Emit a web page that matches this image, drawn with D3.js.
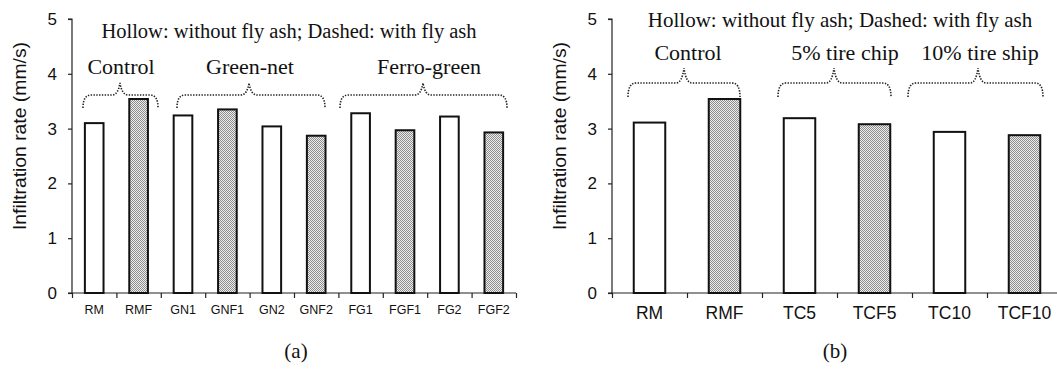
<!DOCTYPE html>
<html>
<head>
<meta charset="utf-8">
<script src="https://cdn.jsdelivr.net/npm/d3@7"></script>
<style>
  html, body { margin: 0; padding: 0; background: #fff; }
  svg { display: block; }
</style>
</head>
<body>
<svg id="chart" width="1057" height="371"></svg>
<script>
// ---- data ----
const catsA = ["RM", "RMF", "GN1", "GNF1", "GN2", "GNF2", "FG1", "FGF1", "FG2", "FGF2"];
const valsA = [3.10, 3.54, 3.24, 3.35, 3.04, 2.87, 3.28, 2.97, 3.22, 2.93];
const flyA  = [false, true, false, true, false, true, false, true, false, true];

const catsB = ["RM", "RMF", "TC5", "TCF5", "TC10", "TCF10"];
const valsB = [3.11, 3.54, 3.19, 3.08, 2.94, 2.88];
const flyB  = [false, true, false, true, false, true];

const yTicks = [0, 1, 2, 3, 4, 5];
const yTitle = "Infiltration rate (mm/s)";
const noteText = "Hollow: without fly ash; Dashed: with fly ash";
const groupsA = ["Control", "Green-net", "Ferro-green"];
const groupsB = ["Control", "5% tire chip", "10% tire ship"];
const captions = ["(a)", "(b)"];

// ---- drawing ----
const svg = d3.select("#chart");
const defs = svg.append("defs");
const pat = defs.append("pattern").attr("id", "dots")
  .attr("patternUnits", "userSpaceOnUse").attr("width", 2).attr("height", 2);
pat.append("rect").attr("width", 2).attr("height", 2).attr("fill", "#eeeeee");
pat.append("rect").attr("x", 0).attr("y", 0).attr("width", 1).attr("height", 1).attr("fill", "#8c8c8c");
pat.append("rect").attr("x", 1).attr("y", 1).attr("width", 1).attr("height", 1).attr("fill", "#8c8c8c");

const SANS = "Arial, 'Liberation Sans', sans-serif";
const SERIF = "'Times New Roman', 'Liberation Serif', serif";

function panel(cfg) {
  const g = svg.append("g");
  const x = d3.scaleBand().domain(cfg.cats).range([cfg.x0, cfg.x1]).paddingInner(0.58).paddingOuter(0.29);
  const xb = d3.scaleLinear().domain([0, cfg.cats.length]).range([cfg.x0, cfg.x1]);
  const y = d3.scaleLinear().domain([0, 5]).range([293, 19]);

  // y axis
  const ya = g.append("g").attr("transform", `translate(${cfg.x0},0)`)
    .call(d3.axisLeft(y).tickValues(yTicks).tickSize(4).tickPadding(11).tickFormat(d3.format("d")));
  ya.selectAll("path").attr("d", `M-4,${y(5)}H0V${y(0)}`);
  ya.selectAll("line, path").attr("stroke", "#222").attr("stroke-width", 1.2);
  ya.selectAll("text").attr("font-family", SANS).attr("font-size", 17).attr("fill", "#111");

  // x axis ticks at band boundaries
  const xa = g.append("g").attr("transform", `translate(0,${y(0)})`)
    .call(d3.axisBottom(xb).tickValues(d3.range(0, cfg.cats.length + 1)).tickSize(5).tickFormat(""));
  xa.selectAll("path").attr("d", `M${cfg.x0 - 4},0H${cfg.x1}`);
  xa.selectAll("line, path").attr("stroke", "#222").attr("stroke-width", 1.2);

  // x labels
  const xl = g.append("g").attr("transform", `translate(0,${y(0)})`)
    .call(d3.axisBottom(x).tickSize(0).tickPadding(cfg.labelPad));
  xl.select("path").remove();
  xl.selectAll("text").attr("font-family", SANS).attr("font-size", cfg.labelSize).attr("fill", "#111");

  // bars
  g.selectAll("rect.bar").data(cfg.cats).join("rect").attr("class", "bar")
    .attr("x", d => x(d))
    .attr("width", x.bandwidth())
    .attr("y", (d, i) => y(cfg.vals[i]))
    .attr("height", (d, i) => y(0) - y(cfg.vals[i]))
    .attr("fill", (d, i) => cfg.fly[i] ? "url(#dots)" : "#fff")
    .attr("stroke", "#111").attr("stroke-width", 2);

  // y title
  g.append("text")
    .attr("transform", `translate(${cfg.titleX},136) rotate(-90)`)
    .attr("text-anchor", "middle").attr("dominant-baseline", "central")
    .attr("font-family", SANS).attr("font-size", 18).attr("fill", "#111")
    .attr("textLength", 188).attr("lengthAdjust", "spacingAndGlyphs")
    .text(yTitle);

  // note
  g.append("text").attr("x", cfg.noteX).attr("y", cfg.noteY)
    .attr("text-anchor", "middle").attr("font-family", SERIF)
    .attr("font-size", cfg.noteSize).attr("fill", "#111").text(noteText);

  // group braces + labels
  cfg.braces.forEach((b, i) => {
    const xm = b.peak, r = 8;
    const p = d3.path();
    p.moveTo(b.a, cfg.bEnd);
    p.quadraticCurveTo(b.a, cfg.bH, b.a + r, cfg.bH);
    p.lineTo(xm - r, cfg.bH);
    p.quadraticCurveTo(xm - 2, cfg.bH, xm, cfg.bPeak);
    p.quadraticCurveTo(xm + 2, cfg.bH, xm + r, cfg.bH);
    p.lineTo(b.b - r, cfg.bH);
    p.quadraticCurveTo(b.b, cfg.bH, b.b, cfg.bEnd);
    g.append("path").attr("d", p.toString()).attr("fill", "none")
      .attr("stroke", "#222").attr("stroke-width", 1.6).attr("stroke-dasharray", "1.4,1.4");
    g.append("text").attr("x", b.tx).attr("y", cfg.gY)
      .attr("text-anchor", "middle").attr("font-family", SERIF)
      .attr("font-size", 22).attr("fill", "#111").text(cfg.groups[i]);
  });

  // caption
  g.append("text").attr("x", cfg.capX).attr("y", 358)
    .attr("text-anchor", "middle").attr("font-family", SERIF)
    .attr("font-size", 21).attr("fill", "#111").text(cfg.caption);
}

panel({
  cats: catsA, vals: valsA, fly: flyA, x0: 72, x1: 516,
  labelSize: 12.5, labelPad: 12, titleX: 20,
  noteX: 289, noteY: 38, noteSize: 20.5,
  groups: groupsA, gY: 74, bH: 95, bPeak: 83, bEnd: 108,
  braces: [
    { a: 83, b: 158, peak: 120, tx: 121 },
    { a: 177, b: 325, peak: 249, tx: 250 },
    { a: 340, b: 507, peak: 423, tx: 429 }
  ],
  capX: 296, caption: captions[0]
});

panel({
  cats: catsB, vals: valsB, fly: flyB, x0: 612, x1: 1062,
  labelSize: 17.5, labelPad: 14, titleX: 560,
  noteX: 840, noteY: 27, noteSize: 21,
  groups: groupsB, gY: 60, bH: 83, bPeak: 68, bEnd: 97,
  braces: [
    { a: 628, b: 740, peak: 684, tx: 688 },
    { a: 778, b: 891, peak: 834, tx: 845 },
    { a: 908, b: 1043, peak: 978, tx: 980 }
  ],
  capX: 835, caption: captions[1]
});
</script>
</body>
</html>
